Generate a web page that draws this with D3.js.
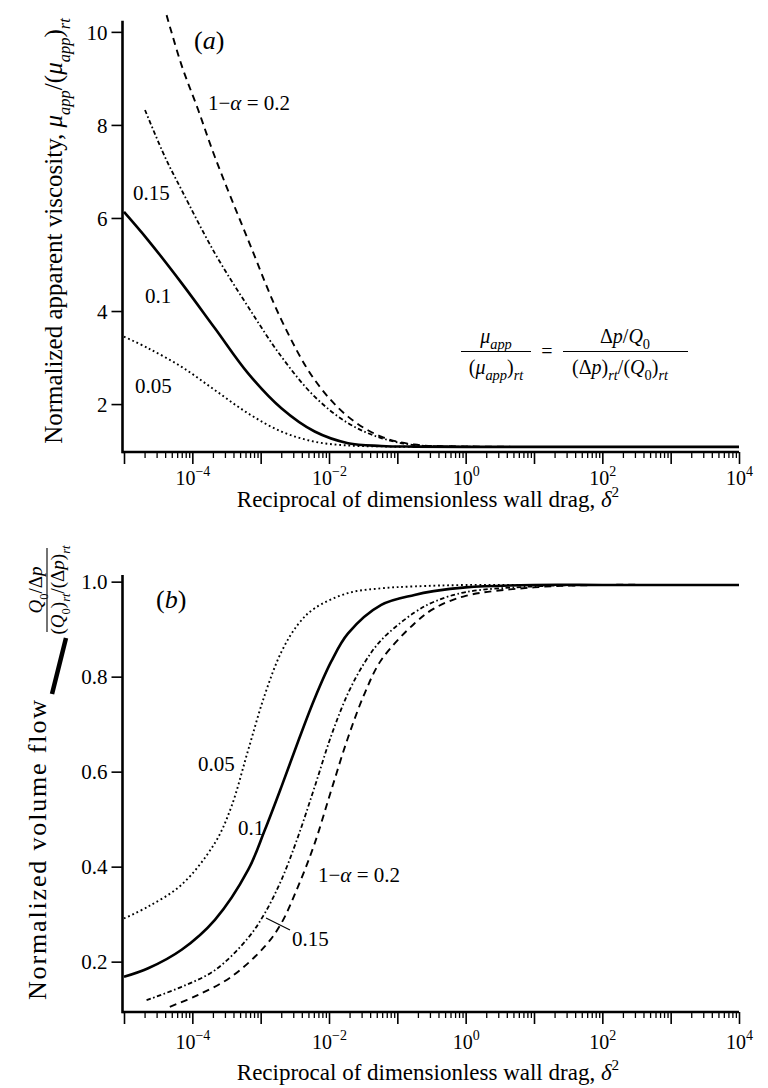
<!DOCTYPE html>
<html><head><meta charset="utf-8">
<script src="https://cdn.jsdelivr.net/npm/d3@7"></script>
<style>
body{margin:0;background:#fff}
text{font-family:"Liberation Serif","DejaVu Serif",serif;fill:#000}
</style>
</head><body>
<svg id="c" width="768" height="1088"></svg>
<script>
// ---------- data ----------
const xDomain = [1e-5, 1e4];
const xTickExps = [-4, -2, 0, 2, 4];
const yTicksA = [2, 4, 6, 8, 10];
const yTicksB = [0.2, 0.4, 0.6, 0.8, 1.0];
const yDomainA = [0.97, 10.24];
const yDomainB = [0.094, 1.014];
const seriesNames = ["0.05", "0.1", "0.15", "0.2"];

// panel (a): normalized apparent viscosity
const aX05 = [1e-5, 2.26e-5, 6.97e-5, 2.14e-4, 6.55e-4, 2.01e-3, 6.17e-3, 1.9e-2, 5.82e-2, 0.178, 1, 10, 100, 1e3, 1e4];
const aY05 = [3.45, 3.20, 2.80, 2.30, 1.80, 1.41, 1.19, 1.11, 1.09, 1.08, 1.08, 1.08, 1.08, 1.08, 1.08];
const aX10 = [1e-5, 2.26e-5, 6.97e-5, 2.14e-4, 6.55e-4, 2.01e-3, 6.17e-3, 1.9e-2, 5.82e-2, 0.178, 1, 10, 100, 1e3, 1e4];
const aY10 = [6.13, 5.52, 4.60, 3.63, 2.66, 1.91, 1.41, 1.16, 1.10, 1.085, 1.08, 1.08, 1.08, 1.08, 1.08];
const aX15 = [2.03e-5, 3.98e-5, 6.97e-5, 2.14e-4, 6.55e-4, 2.01e-3, 6.17e-3, 1.9e-2, 5.82e-2, 0.178, 1, 10, 100, 1e3, 1e4];
const aY15 = [8.32, 7.31, 6.60, 5.24, 4.09, 3.02, 2.16, 1.59, 1.27, 1.12, 1.085, 1.08, 1.08, 1.08, 1.08];
const aX20 = [4.2e-5, 6.97e-5, 1.22e-4, 2.14e-4, 6.55e-4, 2.01e-3, 6.17e-3, 1.9e-2, 5.82e-2, 0.178, 1, 10, 100, 1e3, 1e4];
const aY20 = [10.36, 9.28, 8.32, 7.31, 5.53, 3.81, 2.52, 1.73, 1.30, 1.13, 1.09, 1.08, 1.08, 1.08, 1.08];

// panel (b): normalized volume flow
const bX05 = [1e-5, 2.26e-5, 6.97e-5, 2.14e-4, 3.7e-4, 6.55e-4, 1.15e-3, 2.01e-3, 3.52e-3, 6.17e-3, 1.9e-2, 5.82e-2, 0.178, 1, 10, 100, 1e3, 1e4];
const bY05 = [0.291, 0.316, 0.362, 0.450, 0.525, 0.645, 0.762, 0.852, 0.910, 0.944, 0.976, 0.986, 0.990, 0.993, 0.993, 0.993, 0.993, 0.993];
const bX10 = [1e-5, 2.26e-5, 6.97e-5, 2.14e-4, 6.55e-4, 1.15e-3, 2.01e-3, 3.52e-3, 6.17e-3, 1.08e-2, 1.9e-2, 5.82e-2, 0.178, 0.34, 1, 10, 100, 1e3, 1e4];
const bY10 = [0.168, 0.186, 0.225, 0.288, 0.393, 0.477, 0.568, 0.663, 0.754, 0.832, 0.891, 0.951, 0.972, 0.980, 0.988, 0.993, 0.993, 0.993, 0.993];
const bX15 = [2.14e-5, 6.97e-5, 2.14e-4, 6.55e-4, 1.15e-3, 2.01e-3, 3.52e-3, 6.17e-3, 1.08e-2, 1.9e-2, 3.33e-2, 5.82e-2, 0.178, 0.35, 1, 10, 100, 1e3, 1e4];
const bY15 = [0.119, 0.147, 0.182, 0.250, 0.302, 0.372, 0.463, 0.568, 0.676, 0.765, 0.830, 0.877, 0.935, 0.958, 0.978, 0.990, 0.993, 0.993, 0.993];
const bX20 = [4.68e-5, 1.22e-4, 3.7e-4, 1.15e-3, 2.01e-3, 3.52e-3, 6.17e-3, 1.08e-2, 1.9e-2, 3.33e-2, 5.82e-2, 0.178, 0.35, 1, 10, 100, 1e3, 1e4];
const bY20 = [0.105, 0.130, 0.168, 0.232, 0.281, 0.358, 0.449, 0.561, 0.672, 0.765, 0.835, 0.912, 0.944, 0.970, 0.988, 0.993, 0.993, 0.993];

// ---------- drawing ----------
const svg = d3.select("#c");
const styles = {
  "0.05": {dash: "1.8,2.8", w: 1.9},
  "0.1":  {dash: null, w: 2.6},
  "0.15": {dash: "4.5,2.5,1.6,2.5", w: 1.8},
  "0.2":  {dash: "7,5", w: 1.9}
};

const x = d3.scaleLog().domain(xDomain).range([124, 739]);
const yA = d3.scaleLinear().domain(yDomainA).range([452, 20.7]);
const yB = d3.scaleLinear().domain(yDomainB).range([1012, 575]);
const axisX = 122.5;

function rich(parent, parts, size, subScale) {
  const sc = subScale || 0.66;
  const t = parent.append("text").attr("font-size", size);
  let shift = 0;
  parts.forEach(p => {
    const s = p.sub ? size * 0.3 : p.sup ? -size * 0.42 : 0;
    const ts = t.append("tspan").text(p.t).attr("dy", s - shift);
    shift = s;
    if (p.i) ts.attr("font-style", "italic");
    if (p.sub || p.sup) ts.attr("font-size", size * sc);
  });
  return t;
}

function drawAxes(y, yTicks, yFmt, axisY, labelY) {
  const minor = [];
  for (let e = -5; e < 4; e++) for (let k = 2; k < 10; k++) minor.push(k * Math.pow(10, e));
  const majors = d3.range(-5, 5).map(e => Math.pow(10, e));

  const gm = svg.append("g").attr("transform", `translate(0,${axisY})`)
    .call(d3.axisBottom(x).tickValues(minor).tickSize(6).tickSizeOuter(0).tickFormat(""));
  gm.select(".domain").remove();
  gm.selectAll(".tick line").attr("stroke-width", 1.3);

  const gM = svg.append("g").attr("transform", `translate(0,${axisY})`)
    .call(d3.axisBottom(x).tickValues(majors).tickSize(12).tickSizeOuter(0).tickPadding(0).tickFormat(d => d));
  gM.select(".domain").attr("stroke-width", 2.6).attr("d", `M${axisX},0H${x.range()[1]}`);
  gM.selectAll(".tick line").attr("stroke-width", 1.6);
  gM.selectAll(".tick text").each(function(d) {
    const e = Math.round(Math.log10(d));
    const sel = d3.select(this);
    if (!xTickExps.includes(e)) { sel.remove(); return; }
    sel.text(null).attr("y", labelY).attr("dy", 0).attr("font-size", 20)
      .attr("font-family", '"Liberation Serif",serif').attr("fill", "#000");
    sel.append("tspan").text("10");
    sel.append("tspan").text(e < 0 ? "\u2212" + (-e) : String(e)).attr("font-size", 14).attr("dy", -9);
  });

  const gy = svg.append("g").attr("transform", `translate(${axisX},0)`)
    .call(d3.axisLeft(y).tickValues(yTicks).tickSize(11).tickSizeOuter(0).tickPadding(4).tickFormat(yFmt));
  gy.select(".domain").attr("stroke-width", 2.6).attr("d", `M0,${axisY + 1.3}V${y.range()[1]}`);
  gy.selectAll(".tick line").attr("stroke-width", 1.6);
  gy.selectAll(".tick text").attr("font-size", 21).attr("dy", "0.34em")
    .attr("font-family", '"Liberation Serif",serif').attr("fill", "#000");
}

function drawSeries(y, xs, ys, name) {
  const st = styles[name];
  const line = d3.line().x(d => x(d[0])).y(d => y(d[1])).curve(d3.curveCatmullRom.alpha(0.5));
  svg.append("path").datum(d3.zip(xs, ys)).attr("d", line)
    .attr("fill", "none").attr("stroke", "#000").attr("stroke-width", st.w)
    .attr("stroke-dasharray", st.dash);
}

// ----- panel (a) -----
drawAxes(yA, yTicksA, d => String(d), 452, 33);
drawSeries(yA, aX05, aY05, "0.05");
drawSeries(yA, aX10, aY10, "0.1");
drawSeries(yA, aX15, aY15, "0.15");
drawSeries(yA, aX20, aY20, "0.2");

// ----- panel (b) -----
drawAxes(yB, yTicksB, d3.format(".1f"), 1012, 37);
drawSeries(yB, bX05, bY05, "0.05");
drawSeries(yB, bX10, bY10, "0.1");
drawSeries(yB, bX15, bY15, "0.15");
drawSeries(yB, bX20, bY20, "0.2");

// ----- annotations (a) -----
rich(svg, [{t: "("}, {t: "a", i: true}, {t: ")"}], 26).attr("x", 194).attr("y", 49);
rich(svg, [{t: "1\u2212"}, {t: "\u03B1", i: true}, {t: " = 0.2"}], 21).attr("x", 208).attr("y", 110);
svg.append("text").attr("x", 133).attr("y", 200).attr("font-size", 21).text("0.15");
svg.append("text").attr("x", 145).attr("y", 303).attr("font-size", 21).text("0.1");
svg.append("text").attr("x", 135).attr("y", 393).attr("font-size", 21).text("0.05");

// formula
const fs = 20, fsc = 0.72;
rich(svg, [{t: "\u03BC", i: true}, {t: "app", i: true, sub: true}], fs, fsc).attr("x", 496).attr("y", 343).attr("text-anchor", "middle");
svg.append("line").attr("x1", 461).attr("x2", 531).attr("y1", 351.5).attr("y2", 351.5).attr("stroke", "#000").attr("stroke-width", 1.1);
rich(svg, [{t: "("}, {t: "\u03BC", i: true}, {t: "app", i: true, sub: true}, {t: ")"}, {t: "rt", i: true, sub: true}], fs, fsc).attr("x", 496).attr("y", 374).attr("text-anchor", "middle");
svg.append("text").attr("x", 547).attr("y", 358).attr("font-size", fs).attr("text-anchor", "middle").text("=");
rich(svg, [{t: "\u0394"}, {t: "p", i: true}, {t: "/"}, {t: "Q", i: true}, {t: "0", sub: true}], fs, fsc).attr("x", 625).attr("y", 343).attr("text-anchor", "middle");
svg.append("line").attr("x1", 563).attr("x2", 688).attr("y1", 351.5).attr("y2", 351.5).attr("stroke", "#000").attr("stroke-width", 1.1);
rich(svg, [{t: "(\u0394"}, {t: "p", i: true}, {t: ")"}, {t: "rt", i: true, sub: true}, {t: "/("}, {t: "Q", i: true}, {t: "0", sub: true}, {t: ")"}, {t: "rt", i: true, sub: true}], fs, fsc).attr("x", 620).attr("y", 374).attr("text-anchor", "middle");

// axis titles
const title = [{t: "Reciprocal of dimensionless wall drag, "}, {t: "\u03B4", i: true}, {t: "2", sup: true}];
rich(svg, title, 23).attr("x", 428).attr("y", 507).attr("text-anchor", "middle");
rich(svg, title, 23).attr("x", 428).attr("y", 1080).attr("text-anchor", "middle");

rich(svg, [{t: "Normalized apparent viscosity, "}, {t: "\u03BC", i: true}, {t: "app", i: true, sub: true},
  {t: "/("}, {t: "\u03BC", i: true}, {t: "app", i: true, sub: true}, {t: ")"}, {t: "rt", i: true, sub: true}], 25)
  .attr("text-anchor", "middle").attr("transform", "translate(62,231) rotate(-90)");

// ----- annotations (b) -----
rich(svg, [{t: "("}, {t: "b", i: true}, {t: ")"}], 26).attr("x", 156).attr("y", 608);
svg.append("text").attr("x", 198).attr("y", 771).attr("font-size", 21).text("0.05");
svg.append("text").attr("x", 238).attr("y", 835).attr("font-size", 21).text("0.1");
rich(svg, [{t: "1\u2212"}, {t: "\u03B1", i: true}, {t: " = 0.2"}], 21).attr("x", 318).attr("y", 882);
svg.append("text").attr("x", 292).attr("y", 946).attr("font-size", 21).text("0.15");
svg.append("line").attr("x1", 266).attr("y1", 918).attr("x2", 290).attr("y2", 930).attr("stroke", "#000").attr("stroke-width", 1.2);

svg.append("text").attr("font-size", 26).attr("text-anchor", "end")
  .attr("textLength", 300).attr("lengthAdjust", "spacing")
  .attr("transform", "translate(46,700) rotate(-90)").text("Normalized volume flow");
svg.append("line").attr("x1", 52).attr("y1", 694).attr("x2", 66).attr("y2", 638)
  .attr("stroke", "#000").attr("stroke-width", 4.5);
rich(svg, [{t: "Q", i: true}, {t: "0", sub: true}, {t: "/\u0394"}, {t: "p", i: true}], 19)
  .attr("text-anchor", "middle").attr("transform", "translate(42,590) rotate(-90)");
svg.append("line").attr("x1", 47).attr("x2", 47).attr("y1", 548).attr("y2", 632).attr("stroke", "#000").attr("stroke-width", 1.1);
rich(svg, [{t: "("}, {t: "Q", i: true}, {t: "0", sub: true}, {t: ")"}, {t: "rt", i: true, sub: true}, {t: "/(\u0394"}, {t: "p", i: true}, {t: ")"}, {t: "rt", i: true, sub: true}], 19)
  .attr("text-anchor", "middle").attr("transform", "translate(64,590) rotate(-90)");
</script>
</body></html>
